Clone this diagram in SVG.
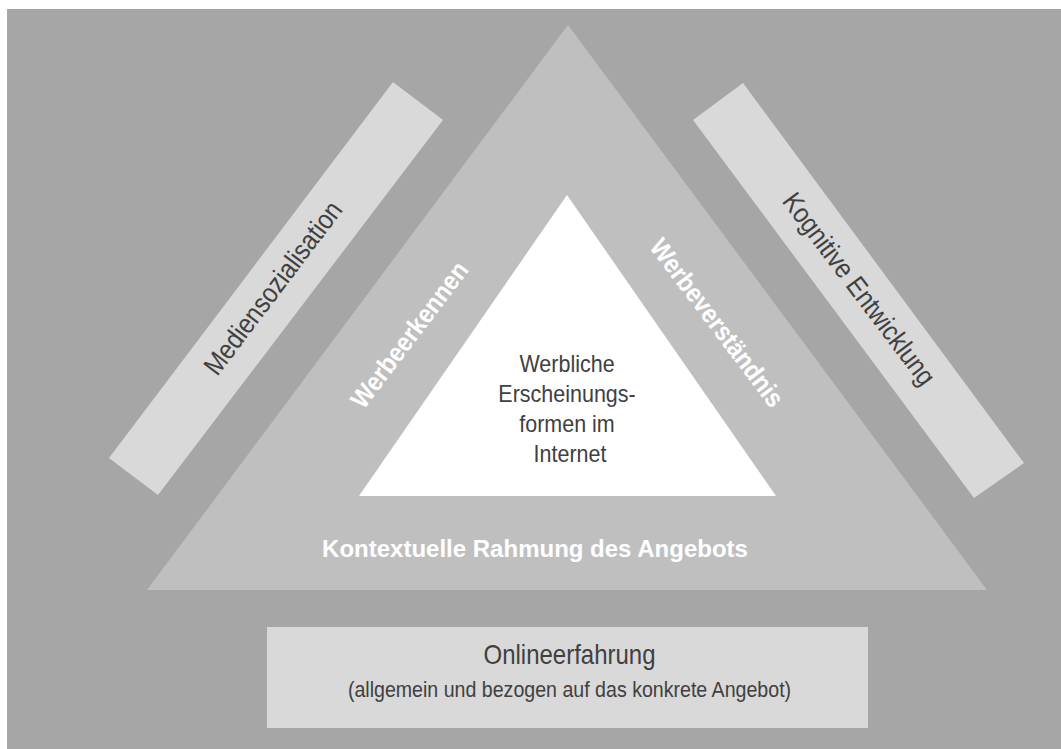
<svg xmlns="http://www.w3.org/2000/svg" width="1061" height="749" viewBox="0 0 1061 749">
  <style>
    .bg { fill: #a6a6a6; }
    .tri { fill: #bfbfbf; }
    .core { fill: #ffffff; }
    .bar { fill: #d9d9d9; }
    .dark { font-family: "Liberation Sans", Arial, sans-serif; fill: #404040; text-anchor: middle; }
    .white { font-family: "Liberation Sans", Arial, sans-serif; font-weight: bold; fill: #ffffff; text-anchor: middle; }
  </style>
  <rect class="bg" x="7" y="9" width="1054" height="740"/>

  <g id="kontext">
    <polygon class="tri" points="568,25 987,590 147,590"/>
    <text class="white" x="535" y="557" font-size="24">Kontextuelle Rahmung des Angebots</text>
  </g>

  <g id="werbeerkennen">
    <text class="white" font-size="23.5" transform="translate(409,334.5) rotate(-52.9) scale(1,1.12)" x="0" y="8.5">Werbeerkennen</text>
  </g>

  <g id="werbeverstaendnis">
    <text class="white" font-size="23.5" transform="translate(717.5,322.5) rotate(52.9) scale(1,1.12)" x="0" y="8.5">Werbeverständnis</text>
  </g>

  <g id="erscheinungsformen">
    <polygon class="core" points="567,195 776,496 359,496"/>
    <text class="dark" font-size="21.5" transform="translate(570,372) scale(1,1.12)">
      <tspan x="0" y="0">Werbliche</tspan>
      <tspan x="0" y="26.8">Erscheinungs-</tspan>
      <tspan x="0" y="53.6">formen im</tspan>
      <tspan x="0" y="80.4">Internet</tspan>
    </text>
  </g>

  <g id="mediensozialisation">
    <polygon class="bar" points="393,82 443,120 158,495 109,458"/>
    <text class="dark" font-size="24" transform="translate(273,288) rotate(-52.9) scale(1,1.15)" x="0" y="8">Mediensozialisation</text>
  </g>

  <g id="kognitive-entwicklung">
    <polygon class="bar" points="743,83 693,120 974,498 1024,463"/>
    <text class="dark" font-size="24" transform="translate(859,289) rotate(52.9) scale(1,1.15)" x="0" y="8">Kognitive Entwicklung</text>
  </g>

  <g id="onlineerfahrung">
    <rect class="bar" x="267" y="627" width="601" height="101"/>
    <text class="dark" font-size="24" transform="translate(569.5,664) scale(1,1.18)" x="0" y="0">Onlineerfahrung</text>
    <text class="dark" font-size="19.6" transform="translate(569.5,697) scale(1,1.15)" x="0" y="0">(allgemein und bezogen auf das konkrete Angebot)</text>
  </g>

  <g id="connectors"></g>
</svg>
